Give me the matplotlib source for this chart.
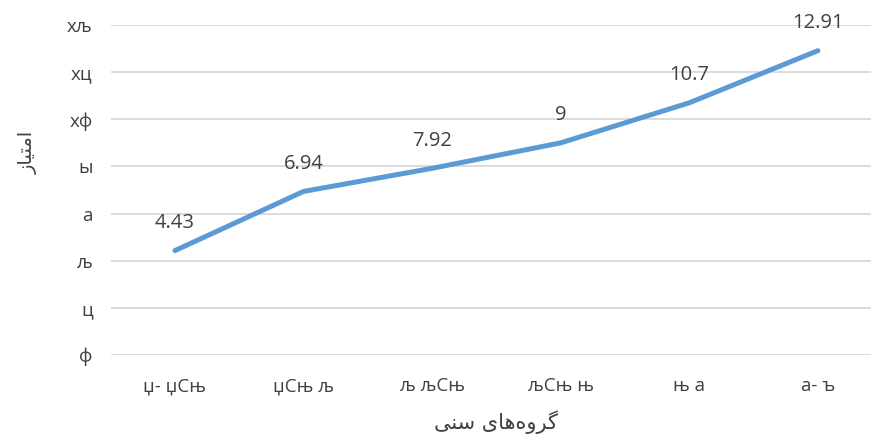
import matplotlib.pyplot as plt

# data
groups = ["џ- џСњ", "џСњ љ", "љ љСњ", "љСњ њ", "њ а", "а- ъ"]
scores = [4.43, 6.94, 7.92, 9, 10.7, 12.91]
score_labels = ["4.43", "6.94", "7.92", "9", "10.7", "12.91"]
y_ticks = [0, 2, 4, 6, 8, 10, 12, 14]
y_tick_labels = ["ф", "ц", "љ", "а", "ы", "хф", "хц", "хљ"]

# Persian titles, pre-shaped (presentation forms, visual order)
x_title = "\uFBFD\uFEE8\uFEB3 \uFBFC\uFE8E\uFEEB\uFEE9\uFEED\uFEAE\uFB94"  # گروه‌های سنی
y_title = "\uFEAF\uFE8E\uFBFF\uFE98\uFEE3\uFE8D"  # امتیاز

fig = plt.figure(figsize=(8.71, 4.37), dpi=100)
ax = fig.add_axes([110.7 / 871, 82 / 437, 771.5 / 871, 330 / 437])

x = list(range(len(groups)))
ax.plot(x, scores, color="#5B9BD5", linewidth=3.6, solid_capstyle="round", zorder=3)

for xi, v, lab in zip(x, scores, score_labels):
    ax.annotate(lab, (xi, v), xytext=(0, 20), textcoords="offset points",
                ha="center", va="center", fontsize=14.5, color="#404040",
                family=["Open Sans", "DejaVu Sans"])

ax.set_xlim(-0.5, len(groups) - 0.5)
ax.set_ylim(0, 14)
ax.set_yticks(y_ticks)
ax.set_yticklabels(y_tick_labels, family=["Open Sans", "DejaVu Sans"], fontsize=13.5, color="#404040")
ax.set_xticks(x)
ax.set_xticklabels(groups, family=["Open Sans", "DejaVu Sans"], fontsize=13.5, color="#404040")
ax.tick_params(length=0)
ax.tick_params(axis="x", pad=16)
ax.tick_params(axis="y", pad=13)
ax.grid(axis="y", color="#D9D9D9", linewidth=1.3)
ax.set_axisbelow(True)
for s in ax.spines.values():
    s.set_visible(False)

fig.text((110.7 + 882) / 2 / 871, 1 - 422 / 437, x_title, ha="center", va="center",
         fontsize=15, color="#404040", family="DejaVu Sans")
fig.text(28 / 871, 1 - 152 / 437, y_title, ha="center", va="center", rotation=90,
         fontsize=14, color="#404040", family="DejaVu Sans")

fig.savefig("out.png", dpi=100)
